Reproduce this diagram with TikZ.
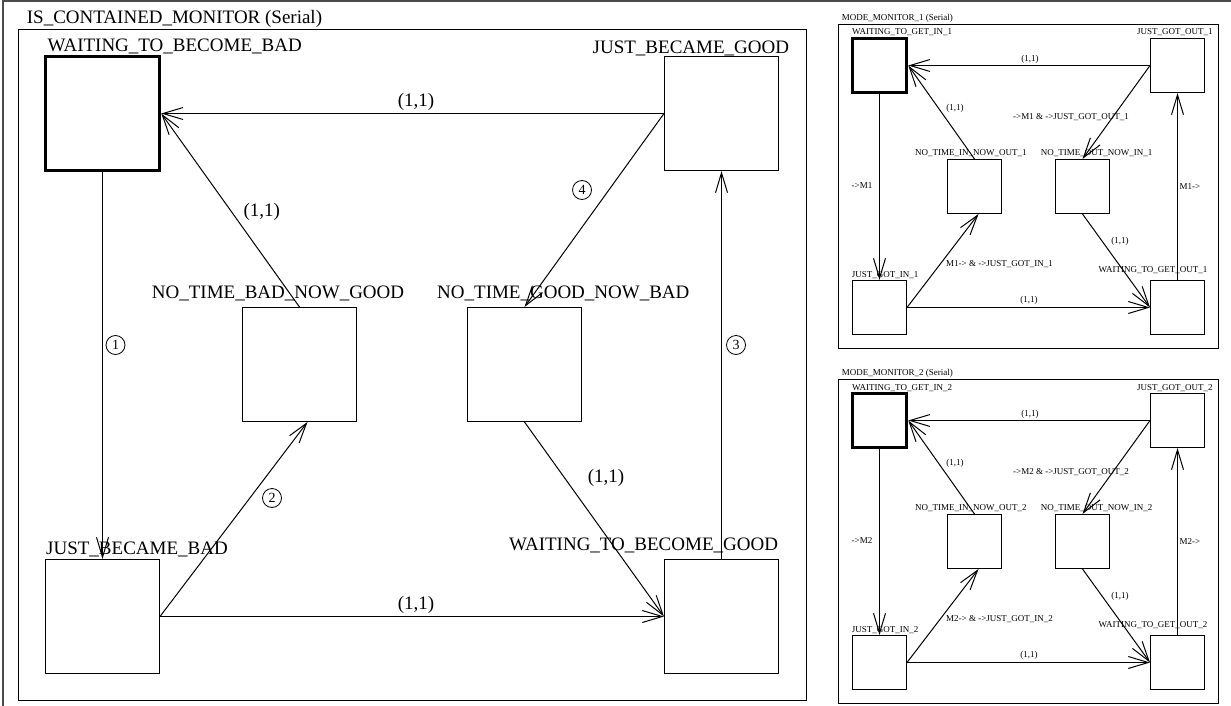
\documentclass[tikz,border=0pt]{standalone}
\usepackage{fontspec}
\setmainfont{Liberation Serif}
\usetikzlibrary{arrows.meta}

\begin{document}
\begin{tikzpicture}[x=1pt,y=-1pt,font=\fontsize{19}{23}\selectfont,statebox/.style={draw, line width=1pt, minimum size=114pt, inner sep=0pt},startstate/.style={line width=3.6pt},smallbox/.style={statebox, minimum size=54pt},lbl/.style={anchor=base west, inner sep=0pt},smalltext/.style={font=\fontsize{9}{11}\selectfont},edgearrow/.style={-{Straight Barb[length=20pt,width=12pt]}, line width=1pt},stepno/.style={draw, circle, line width=0.8pt, minimum size=19pt, inner sep=0pt, font=\fontsize{14}{14}\selectfont}]
\useasboundingbox (0,0) rectangle (1231,706);
\draw[gray!60!black, line width=2pt] (2.5,706) -- (2.5,1.5) -- (1231,1.5);
\newcommand{\modeMonitor}[1]{\draw[line width=1pt] (838.5,24.5) rectangle (1218.5,348.5);\node[lbl,smalltext] (mmTitle#1) at (841.7,20.7) {MODE\_MONITOR\_#1 (Serial)};
\node[smallbox,startstate] (wgi#1) at (879.5,65.5) {};\node[lbl,smalltext] (wgiL#1) at (852,35) {WAITING\_TO\_GET\_IN\_#1};
\node[smallbox] (jgo#1) at (1177.5,65.5) {};\node[lbl,smalltext] (jgoL#1) at (1137,35) {JUST\_GOT\_OUT\_#1};
\node[smallbox] (ntino#1) at (974.5,186.5) {};\node[lbl,smalltext] (ntinoL#1) at (915,155) {NO\_TIME\_IN\_NOW\_OUT\_#1};
\node[smallbox] (ntoni#1) at (1082.5,186.5) {};\node[lbl,smalltext] (ntoniL#1) at (1040.7,155) {NO\_TIME\_OUT\_NOW\_IN\_#1};
\node[smallbox] (jgi#1) at (879.5,307.5) {};\node[lbl,smalltext] (jgiL#1) at (851.7,277.7) {JUST\_GOT\_IN\_#1};
\node[smallbox] (wgo#1) at (1177.5,307.5) {};\node[lbl,smalltext] (wgoL#1) at (1098.3,272.5) {WAITING\_TO\_GET\_OUT\_#1};
\draw[edgearrow] (wgi#1.south) -- (jgi#1.north);\draw[edgearrow] (jgo#1.west) -- (wgi#1.east);\draw[edgearrow] (ntino#1.north) -- (wgi#1.east);\draw[edgearrow] (jgo#1.west) -- (ntoni#1.north);
\draw[edgearrow] (jgi#1.east) -- ([xshift=4pt]ntino#1.south);\draw[edgearrow] (ntoni#1.south) -- (wgo#1.west);\draw[edgearrow] (jgi#1.east) -- (wgo#1.west);\draw[edgearrow] (wgo#1.north) -- (jgo#1.south);
\node[smalltext] (inM#1) at (862,186) {->M#1};\node[smalltext] (outM#1) at (1190,187) {M#1->};
\node[smalltext] (toOut#1) at (1071,117) {->M#1 \& ->JUST\_GOT\_OUT\_#1};\node[smalltext] (toIn#1) at (999.5,264) {M#1-> \& ->JUST\_GOT\_IN\_#1};
\foreach \p/\n in {(1030,59.5)/a,(955,108)/b,(1120,241)/c,(1029,300)/d}\node[smalltext] (one\n#1) at \p {(1,1)};}
% is contained monitor
\draw[line width=1pt] (18.5,29.5) rectangle (806.5,700.5);
\node[lbl] (mainTitle) at (26.7,23.3) {IS\_CONTAINED\_MONITOR (Serial)};
\node[statebox,startstate] (wtbb) at (102.5,113.5) {};\node[lbl] (wtbbL) at (47.5,51.7) {WAITING\_TO\_BECOME\_BAD};
\node[statebox] (jbg) at (721.5,113.5) {};\node[lbl] (jbgL) at (592.5,53.5) {JUST\_BECAME\_GOOD};
\node[statebox] (ntbg) at (299.5,364.5) {};\node[lbl] (ntbgL) at (151.7,298.3) {NO\_TIME\_BAD\_NOW\_GOOD};
\node[statebox] (ntgb) at (524.5,364.5) {};\node[lbl] (ntgbL) at (437,298.3) {NO\_TIME\_GOOD\_NOW\_BAD};
\node[statebox] (jbb) at (102.5,616.5) {};\node[lbl] (jbbL) at (46,554) {JUST\_BECAME\_BAD};
\node[statebox] (wtbg) at (721.5,616.5) {};\node[lbl] (wtbgL) at (509,550.5) {WAITING\_TO\_BECOME\_GOOD};
\draw[edgearrow] (wtbb.south) -- (jbb.north);\draw[edgearrow] (jbb.east) -- ([xshift=8pt]ntbg.south);\draw[edgearrow] (wtbg.north) -- (jbg.south);\draw[edgearrow] (jbg.west) -- (ntgb.north);
\draw[edgearrow] (jbg.west) -- (wtbb.east);\draw[edgearrow] (ntbg.north) -- (wtbb.east);\draw[edgearrow] (ntgb.south) -- (wtbg.west);\draw[edgearrow] (jbb.east) -- (wtbg.west);
\foreach \p/\n in {(416,102)/a,(261.7,212)/b,(606,478)/c,(416,605)/d}\node (one\n) at \p {(1,1)};
\node[stepno] (stepA) at (115.5,345) {1};\node[stepno] (stepB) at (272,498) {2};\node[stepno] (stepC) at (736,345) {3};\node[stepno] (stepD) at (582,190) {4};
% mode monitors
\begin{scope}\modeMonitor{1}\end{scope}
\begin{scope}[shift={(0,355)}]\modeMonitor{2}\end{scope}
\end{tikzpicture}
\end{document}
